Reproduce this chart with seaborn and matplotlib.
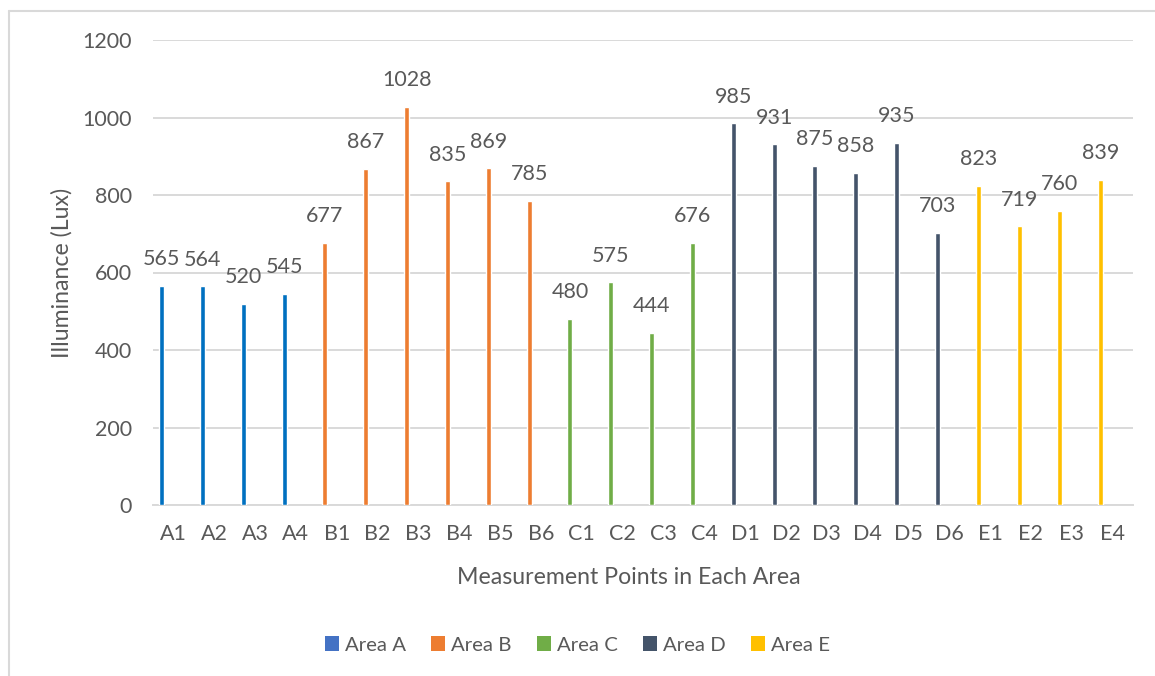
import matplotlib
matplotlib.use("Agg")
import matplotlib.pyplot as plt
import seaborn as sns
import pandas as pd
from matplotlib.patches import Patch
from matplotlib.lines import Line2D

points = ["A1", "A2", "A3", "A4",
          "B1", "B2", "B3", "B4", "B5", "B6",
          "C1", "C2", "C3", "C4",
          "D1", "D2", "D3", "D4", "D5", "D6",
          "E1", "E2", "E3", "E4"]
areas = ["Area A"] * 4 + ["Area B"] * 6 + ["Area C"] * 4 + ["Area D"] * 6 + ["Area E"] * 4
lux = [565, 564, 520, 545,
       677, 867, 1028, 835, 869, 785,
       480, 575, 444, 676,
       985, 931, 875, 858, 935, 703,
       823, 719, 760, 839]
area_names = ["Area A", "Area B", "Area C", "Area D", "Area E"]
bar_colors = ["#0070C0", "#ED7D31", "#70AD47", "#44546A", "#FFC000"]
legend_colors = ["#4472C4", "#ED7D31", "#70AD47", "#44546A", "#FFC000"]
y_ticks = [0, 200, 400, 600, 800, 1000, 1200]

df = pd.DataFrame({"point": points, "area": areas, "lux": lux})

sns.set_theme(style="white")
plt.rcParams["font.family"] = ["Lato", "DejaVu Sans"]
TXT = "#595959"
FS = 15.5

fig = plt.figure(figsize=(11.55, 6.76), dpi=100)
ax = fig.add_axes([153 / 1155, 1 - 505 / 676, (1133 - 153) / 1155, (505 - 40) / 676])

sns.barplot(data=df, x="point", y="lux", hue="area", order=points,
            hue_order=area_names, palette=dict(zip(area_names, bar_colors)),
            dodge=False, width=0.12, saturation=1, legend=False, ax=ax, zorder=3)

for p in ax.patches:
    p.set_x(p.get_x() - 0.29)

for c in ax.containers:
    ax.bar_label(c, fmt="%d", padding=12, fontsize=FS, color=TXT)

ax.set_xlim(-0.5, len(points) - 0.5)
ax.set_ylim(0, 1200)
ax.set_yticks(y_ticks)
ax.set_yticklabels([str(v) for v in y_ticks])
ax.yaxis.grid(True, color="#D9D9D9", linewidth=1.4, zorder=0)
ax.set_axisbelow(True)
for s in ["left", "right", "top"]:
    ax.spines[s].set_visible(False)
ax.spines["bottom"].set_color("#D9D9D9")
ax.spines["bottom"].set_linewidth(1.4)

ax.set_xticks(range(len(points)))
ax.set_xticklabels(points)
ax.tick_params(axis="x", length=0, pad=14, labelsize=FS, labelcolor=TXT)
ax.tick_params(axis="y", length=0, pad=15, labelsize=FS, labelcolor=TXT)
ax.set_xticks([i - 0.5 for i in range(len(points) + 1)], minor=True)
ax.tick_params(axis="x", which="minor", length=5, width=1.4, color="#D9D9D9", direction="out")

ax.set_xlabel("Measurement Points in Each Area", fontsize=16.7, color=TXT)
ax.xaxis.label.set_verticalalignment("center")
ax.xaxis.set_label_coords((629 - 153) / 980, -(577 - 505) / 465)
ax.set_ylabel("Illuminance (Lux)", fontsize=16.7, color=TXT)
ax.yaxis.label.set_verticalalignment("center")
ax.yaxis.set_label_coords(-(153 - 62) / 980, 0.5)

handles = [Patch(facecolor=c, edgecolor="none") for c in legend_colors]
fig.legend(handles, area_names, loc="center", bbox_to_anchor=(0.5, 1 - 645 / 676),
           ncol=5, frameon=False, fontsize=14.7, labelcolor=TXT,
           handlelength=0.69, handleheight=0.69, handletextpad=0.3, columnspacing=1.22)

fig.add_artist(Line2D([9 / 1155, 9 / 1155], [0, 1 - 11 / 676], transform=fig.transFigure,
                      color="#D9D9D9", linewidth=1.5))
fig.add_artist(Line2D([9 / 1155, 1], [1 - 11 / 676, 1 - 11 / 676], transform=fig.transFigure,
                      color="#D9D9D9", linewidth=1.5))

fig.savefig("out.png", dpi=100, facecolor="white")
